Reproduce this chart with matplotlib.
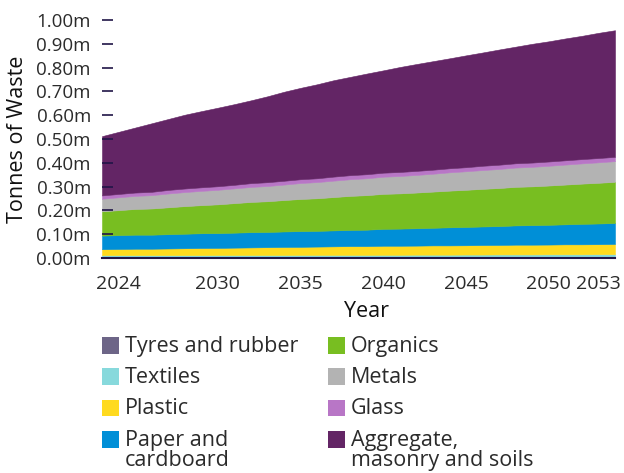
import matplotlib
matplotlib.use("Agg")
import matplotlib.pyplot as plt
from matplotlib.patches import Rectangle
from matplotlib.ticker import FuncFormatter

plt.rcParams['font.family'] = ['Open Sans', 'DejaVu Sans']

# Projected tonnes of waste (millions) by material stream, 2023-2054
years = list(range(2023, 2055))

tyres = [0.003, 0.003, 0.003, 0.003, 0.003, 0.003, 0.003, 0.003,
         0.003, 0.003, 0.003, 0.003, 0.003, 0.003, 0.003, 0.003,
         0.003, 0.003, 0.003, 0.003, 0.003, 0.003, 0.003, 0.003,
         0.003, 0.003, 0.003, 0.003, 0.003, 0.003, 0.003, 0.003]
textiles = [0.009, 0.009, 0.009, 0.009, 0.009, 0.009, 0.009, 0.0095,
            0.0095, 0.0095, 0.0095, 0.0095, 0.010, 0.010, 0.010, 0.010,
            0.010, 0.0105, 0.0105, 0.011, 0.011, 0.011, 0.0115, 0.0115,
            0.012, 0.012, 0.012, 0.0125, 0.0125, 0.0125, 0.013, 0.013]
plastic = [0.025, 0.026, 0.027, 0.027, 0.028, 0.029, 0.030, 0.030,
           0.031, 0.032, 0.033, 0.034, 0.034, 0.035, 0.036, 0.037,
           0.037, 0.038, 0.038, 0.038, 0.039, 0.039, 0.039, 0.040,
           0.040, 0.041, 0.041, 0.041, 0.042, 0.042, 0.042, 0.043]
paper = [0.057, 0.058, 0.059, 0.059, 0.060, 0.061, 0.062, 0.062,
         0.063, 0.064, 0.064, 0.065, 0.066, 0.066, 0.067, 0.068,
         0.069, 0.071, 0.072, 0.073, 0.074, 0.076, 0.077, 0.078,
         0.079, 0.081, 0.082, 0.083, 0.084, 0.086, 0.087, 0.088]
organics = [0.102, 0.105, 0.108, 0.110, 0.113, 0.116, 0.118, 0.121,
            0.124, 0.127, 0.129, 0.132, 0.135, 0.137, 0.140, 0.143,
            0.145, 0.147, 0.148, 0.150, 0.152, 0.154, 0.156, 0.158,
            0.160, 0.162, 0.163, 0.165, 0.167, 0.169, 0.171, 0.173]
metals = [0.053, 0.054, 0.055, 0.056, 0.058, 0.059, 0.060, 0.061,
          0.062, 0.063, 0.064, 0.065, 0.067, 0.068, 0.069, 0.070,
          0.071, 0.072, 0.073, 0.074, 0.075, 0.077, 0.078, 0.079,
          0.080, 0.081, 0.082, 0.083, 0.084, 0.085, 0.086, 0.087]
glass = [0.014, 0.014, 0.014, 0.014, 0.015, 0.015, 0.015, 0.015,
         0.015, 0.016, 0.016, 0.016, 0.016, 0.016, 0.017, 0.017,
         0.017, 0.017, 0.017, 0.017, 0.017, 0.017, 0.017, 0.018,
         0.018, 0.018, 0.018, 0.018, 0.018, 0.018, 0.018, 0.018]
aggregate = [0.249, 0.261, 0.273, 0.288, 0.298, 0.310, 0.320, 0.330,
             0.339, 0.348, 0.361, 0.374, 0.384, 0.395, 0.405, 0.413,
             0.423, 0.430, 0.441, 0.449, 0.456, 0.462, 0.470, 0.476,
             0.484, 0.490, 0.499, 0.505, 0.512, 0.518, 0.526, 0.532]

labels = ["Tyres and rubber", "Textiles", "Plastic", "Paper and\ncardboard",
          "Organics", "Metals", "Glass", "Aggregate,\nmasonry and soils"]
colors = ["#6d6587", "#87d9dc", "#ffda1f", "#008fd7",
          "#78be21", "#b3b3b3", "#b876c6", "#632565"]

x_ticks = [2024, 2030, 2035, 2040, 2045, 2050, 2053]
y_ticks = [0.0, 0.1, 0.2, 0.3, 0.4, 0.5, 0.6, 0.7, 0.8, 0.9, 1.0]

NAVY = "#201547"
TEXT = "#2b2b2b"
W, H = 624, 473

fig = plt.figure(figsize=(W / 100, H / 100), dpi=100)
ax = fig.add_axes([102 / W, 1 - 258 / H, (615 - 102) / W, (258 - 20) / H])

polys = ax.stackplot(years, tyres, textiles, plastic, paper, organics,
                     metals, glass, aggregate, colors=colors, linewidth=0.4)
for poly, c in zip(polys, colors):
    poly.set_edgecolor(c)

ax.set_xlim(years[0], years[-1])
ax.set_ylim(0, 1.0)
ax.set_xticks(x_ticks)
ax.set_yticks(y_ticks)
ax.yaxis.set_major_formatter(FuncFormatter(lambda v, _: f"{v:.2f}m"))

for side in ("top", "right", "left"):
    ax.spines[side].set_visible(False)
ax.spines["bottom"].set_color(NAVY)
ax.spines["bottom"].set_linewidth(1.5)
ax.spines["bottom"].set_zorder(3)

ax.tick_params(axis="y", direction="in", length=8, width=1.2, color=NAVY,
               pad=8, labelsize=13.5, labelcolor=TEXT)
ax.tick_params(axis="x", length=0, pad=12, labelsize=14, labelcolor=TEXT)

ax.set_ylabel("Tonnes of Waste", fontsize=15.5, color="#111111")
ax.yaxis.set_label_coords(-0.145, 0.5)
ax.set_xlabel("Year", fontsize=15.5, color="#111111")
ax.xaxis.set_label_coords(0.515, -0.18)

# hand-built legend: two columns of four, square level with the first text line
col_left = [102, 328]
for i, (name, c) in enumerate(zip(labels, colors)):
    col, row = divmod(i, 4)
    top = 337 + row * 31.4
    fig.patches.append(Rectangle((col_left[col] / W, 1 - (top + 16.5) / H), 16.5 / W, 16.5 / H,
                                 transform=fig.transFigure, facecolor=c, edgecolor="none"))
    fig.text((col_left[col] + 23) / W, 1 - (top - 1.5) / H, name, va="top", ha="left",
             fontsize=15.5, color=TEXT, linespacing=0.95)

fig.savefig("out.png", dpi=100)
